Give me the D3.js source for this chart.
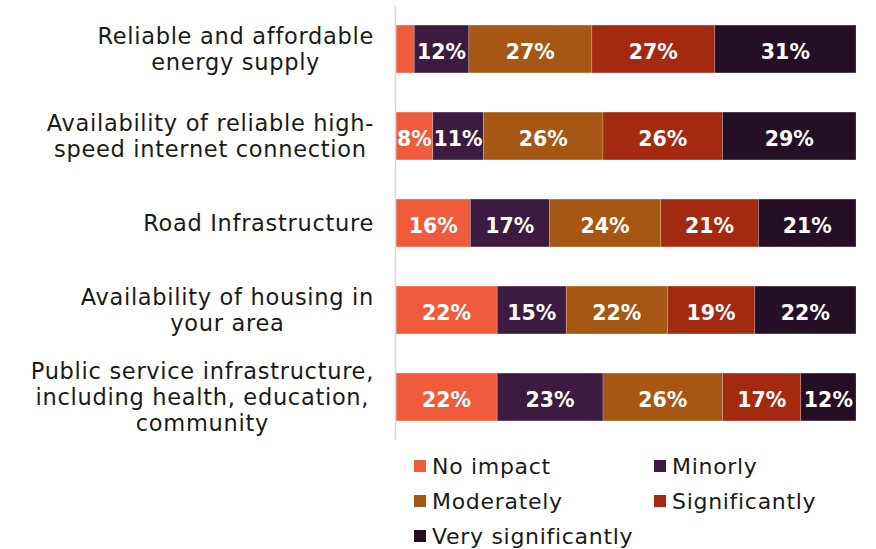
<!DOCTYPE html>
<html>
<head>
<meta charset="utf-8">
<script src="https://cdn.jsdelivr.net/npm/d3@7"></script>
<style>
  html, body { margin: 0; padding: 0; background: #fff; }
  svg { display: block; }
</style>
</head>
<body>
<svg id="chart" width="876" height="549"></svg>
<script>
// Infrastructure items, one bar each (label lines kept per item)
const categories = [
  "Reliable and affordable energy supply",
  "Availability of reliable high-speed internet connection",
  "Road Infrastructure",
  "Availability of housing in your area",
  "Public service infrastructure, including health, education, community"
];
const categoryLines = [
  ["Reliable and affordable", "energy supply"],
  ["Availability of reliable high-", "speed internet connection"],
  ["Road Infrastructure"],
  ["Availability of housing in", "your area"],
  ["Public service infrastructure,", "including health, education,", "community"]
];

// Impact levels (legend order) and their colours
const seriesNames = ["No impact", "Minorly", "Moderately", "Significantly", "Very significantly"];
const seriesColors = ["#F05B3B", "#3D1A3F", "#A65713", "#A32A10", "#250F25"];

// Share of respondents (%) per item for each impact level
const noImpact          = [4, 8, 16, 22, 22];
const minorly           = [12, 11, 17, 15, 23];
const moderately        = [27, 26, 24, 22, 26];
const significantly     = [27, 26, 21, 19, 17];
const verySignificantly = [31, 29, 21, 22, 12];

const seriesValues = [noImpact, minorly, moderately, significantly, verySignificantly];

const rows = categories.map((c, i) => {
  const r = { category: c };
  seriesNames.forEach((s, j) => { r[s] = seriesValues[j][i]; });
  return r;
});

const svg = d3.select("#chart");
const FONT = "'DejaVu Sans', sans-serif";

const x = d3.scaleLinear().domain([0, 1]).range([396, 856]);
const y = d3.scaleBand().domain(categories).range([5.5, 440.5])
  .paddingInner(0.45).paddingOuter(0.225);
const color = d3.scaleOrdinal().domain(seriesNames).range(seriesColors);

// 100% stacked layout
const stacked = d3.stack().keys(seriesNames).offset(d3.stackOffsetExpand)(rows);

const layers = svg.append("g").selectAll("g")
  .data(stacked).join("g")
  .attr("fill", d => color(d.key));

layers.selectAll("rect")
  .data(d => d.map(v => ({ key: d.key, v })))
  .join("rect")
  .attr("x", d => x(d.v[0]))
  .attr("y", d => y(d.v.data.category))
  .attr("width", d => x(d.v[1]) - x(d.v[0]))
  .attr("height", y.bandwidth())
  .attr("stroke", "#ffffff")
  .attr("stroke-opacity", 0.35)
  .attr("stroke-width", 0.6);

// Value labels inside the segments (skipped where the segment is too narrow)
layers.selectAll("text")
  .data(d => d.map(v => ({ key: d.key, v })))
  .join("text")
  .filter(d => x(d.v[1]) - x(d.v[0]) > 30)
  .attr("x", d => (x(d.v[0]) + x(d.v[1])) / 2)
  .attr("y", d => y(d.v.data.category) + y.bandwidth() / 2 + 9.5)
  .attr("text-anchor", "middle")
  .attr("fill", "#ffffff")
  .attr("font-family", FONT)
  .attr("font-weight", "bold")
  .attr("font-size", "20.5px")
  .text(d => d.v.data[d.key] + "%");

// Vertical baseline of the category axis
svg.append("line")
  .attr("x1", 395.5).attr("x2", 395.5)
  .attr("y1", 6).attr("y2", 440)
  .attr("stroke", "#d9d9d9")
  .attr("stroke-width", 1.5);

// Category labels: each block centred on its own width, right edge at the axis gap
const labelRight = 374;
const lineH = 26;
categories.forEach((c, i) => {
  const lines = categoryLines[i];
  const g = svg.append("g");
  const texts = lines.map((ln, k) => g.append("text")
    .attr("font-family", FONT)
    .attr("font-size", "22.5px")
    .attr("letter-spacing", "0.7px")
    .attr("fill", "#1a1a1a")
    .attr("text-anchor", "middle")
    .attr("y", y(c) + y.bandwidth() / 2 + (k - (lines.length - 1) / 2) * lineH + 8)
    .text(ln));
  const maxW = d3.max(texts, t => t.node().getComputedTextLength());
  texts.forEach(t => t.attr("x", labelRight - maxW / 2));
});

// Legend: two columns
const legendCols = [414, 654];
const legendRows = [460, 495, 530];
const legend = svg.append("g");
seriesNames.forEach((s, i) => {
  const lx = legendCols[i % 2];
  const ly = legendRows[Math.floor(i / 2)];
  legend.append("rect")
    .attr("x", lx).attr("y", ly)
    .attr("width", 12).attr("height", 12)
    .attr("fill", color(s));
  legend.append("text")
    .attr("x", lx + 18).attr("y", ly + 14)
    .attr("font-family", FONT)
    .attr("font-size", "22px")
    .attr("letter-spacing", "0.7px")
    .attr("fill", "#1a1a1a")
    .text(s);
});
</script>
</body>
</html>
